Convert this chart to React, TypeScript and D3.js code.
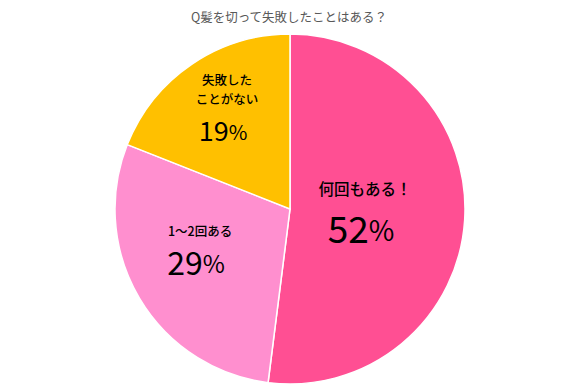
import * as React from "react";
import * as d3 from "d3";

const title = "Q髪を切って失敗したことはある？";
const categories = ["何回もある！", "1～2回ある", "失敗したことがない"];
const values = [52, 29, 19];
const colors = ["#FF4F93", "#FF8FCF", "#FFC000"];

// label layout per slice: text lines, positions relative to centre
const labelLines = [["何回もある！"], ["1～2回ある"], ["失敗した", "ことがない"]];
const labelPos = [
  { x: 75, y: -18, size: 15.5, pct: 37, gap: 42 },
  { x: -90, y: 24, size: 12.5, pct: 32, gap: 33 },
  { x: -63, y: -127, size: 12.5, pct: 27, gap: 33 },
];

export default function App() {
  const width = 579;
  const height = 391;
  const cx = 290;
  const cy = 209;
  const r = 175;

  const pie = d3.pie<number>().sort(null).value(d => d);
  const arcs = pie(values);
  const arc = d3.arc<d3.PieArcDatum<number>>().innerRadius(0).outerRadius(r);
  const font = "'Noto Sans CJK JP', 'Noto Sans', sans-serif";

  return (
    <svg width={width} height={height} style={{ position: "absolute", left: 0, top: 0 }}>
      <text x={289} y={22} textAnchor="middle" fontSize={12.5} fill="#595959" fontFamily={font}>
        {title}
      </text>
      <g transform={`translate(${cx},${cy})`}>
        {arcs.map((a, i) => (
          <path key={categories[i]} d={arc(a) || ""} fill={colors[i]} stroke="#fff" strokeWidth={1.5} />
        ))}
        {arcs.map((a, i) => {
          const p = labelPos[i];
          const lines = labelLines[i];
          const lh = p.size * 1.5;
          return (
            <g key={"l" + i} fontFamily={font} fill="#000" textAnchor="middle" fontWeight={500}>
              {lines.map((t, j) => (
                <text key={j} x={p.x} y={p.y + j * lh} fontSize={p.size} dominantBaseline="middle">
                  {t}
                </text>
              ))}
              <text x={p.x - 4} y={p.y + (lines.length - 1) * lh + p.gap} fontSize={p.pct} fontWeight={400} dominantBaseline="middle">
                {a.data}
                <tspan fontSize={p.pct * 0.75}>%</tspan>
              </text>
            </g>
          );
        })}
      </g>
    </svg>
  );
}
